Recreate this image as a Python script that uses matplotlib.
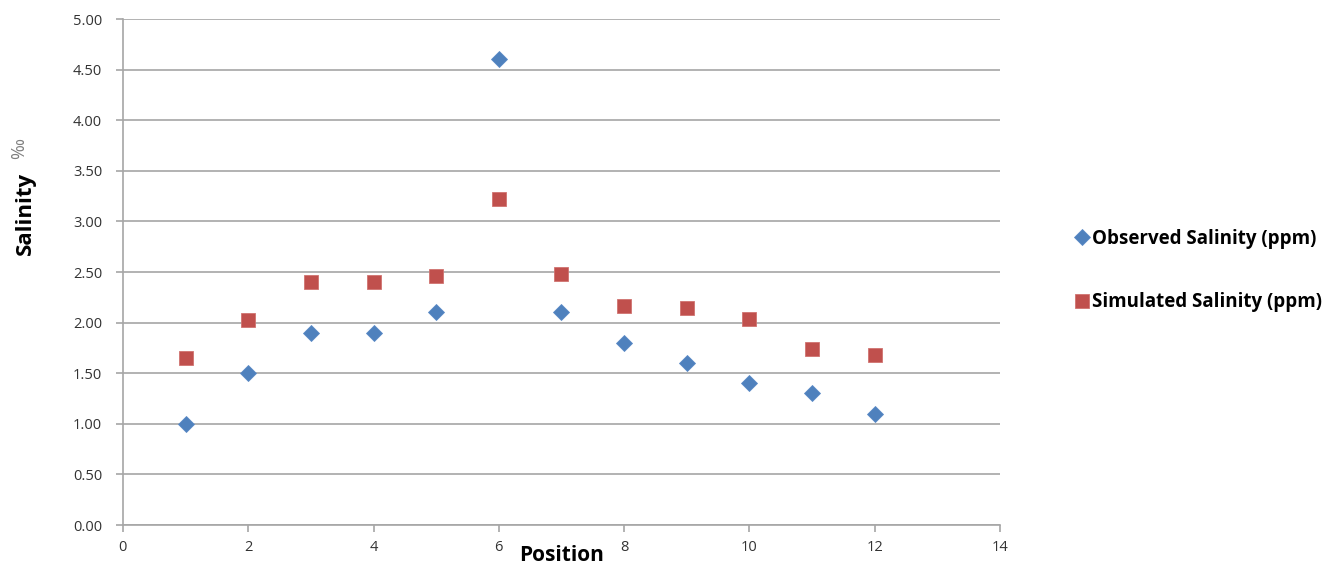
import matplotlib.pyplot as plt

# position along the transect
position = [1, 2, 3, 4, 5, 6, 7, 8, 9, 10, 11, 12]
# salinity values
observed = [1.00, 1.50, 1.90, 1.90, 2.10, 4.60, 2.10, 1.80, 1.60, 1.40, 1.30, 1.10]
simulated = [1.65, 2.03, 2.40, 2.40, 2.46, 3.22, 2.48, 2.16, 2.14, 2.04, 1.74, 1.68]

x_ticks = [0, 2, 4, 6, 8, 10, 12, 14]
y_ticks = [0.0, 0.5, 1.0, 1.5, 2.0, 2.5, 3.0, 3.5, 4.0, 4.5, 5.0]

plt.rcParams['font.family'] = ['Open Sans', 'DejaVu Sans']

fig = plt.figure(figsize=(13.36, 5.66), dpi=100)
ax = fig.add_axes([0.092, 0.0724, 0.6565, 0.894])

ax.plot(position, observed, linestyle='none', marker='D', markersize=8.2,
        color='#4F81BD', markeredgecolor='#5A8AC6', markeredgewidth=0.6,
        label='Observed Salinity (ppm)', zorder=3)
ax.plot(position, simulated, linestyle='none', marker='s', markersize=10.5,
        color='#C0504D', markeredgecolor='#D07370', markeredgewidth=0.6,
        label='Simulated Salinity (ppm)', zorder=3)

ax.set_xlim(0, 14)
ax.set_ylim(0, 5)
ax.set_xticks(x_ticks)
ax.set_yticks(y_ticks)
ax.set_yticklabels(['%.2f' % v for v in y_ticks])
ax.yaxis.grid(True, color='#A6A6A6', linewidth=1.2)
ax.set_axisbelow(True)

for s in ['top', 'right']:
    ax.spines[s].set_visible(False)
for s in ['left', 'bottom']:
    ax.spines[s].set_color('#A6A6A6')
    ax.spines[s].set_linewidth(1.2)
ax.tick_params(axis='both', colors='#A6A6A6', length=5, width=1.2,
               labelcolor='#333333', labelsize=10.5)
ax.tick_params(axis='y', pad=10)
ax.tick_params(axis='x', pad=6)

fig.text(0.4205, 0.0, 'Position', ha='center', va='bottom',
         fontsize=15, fontweight='bold', color='black')
fig.text(0.019, 0.623, 'Salinity', rotation=90, ha='center', va='center',
         fontsize=16, fontweight='bold', color='black')
fig.text(0.014, 0.738, '‰', rotation=90, ha='center', va='center',
         fontsize=13, color='#7F7F7F')

fig.legend(loc='center left', bbox_to_anchor=(0.798, 0.522), frameon=False,
           prop={'weight': 'bold', 'size': 13.5}, labelspacing=2.3,
           handletextpad=0.1, handlelength=0.9, borderaxespad=0)

fig.savefig('out.png', dpi=100)
